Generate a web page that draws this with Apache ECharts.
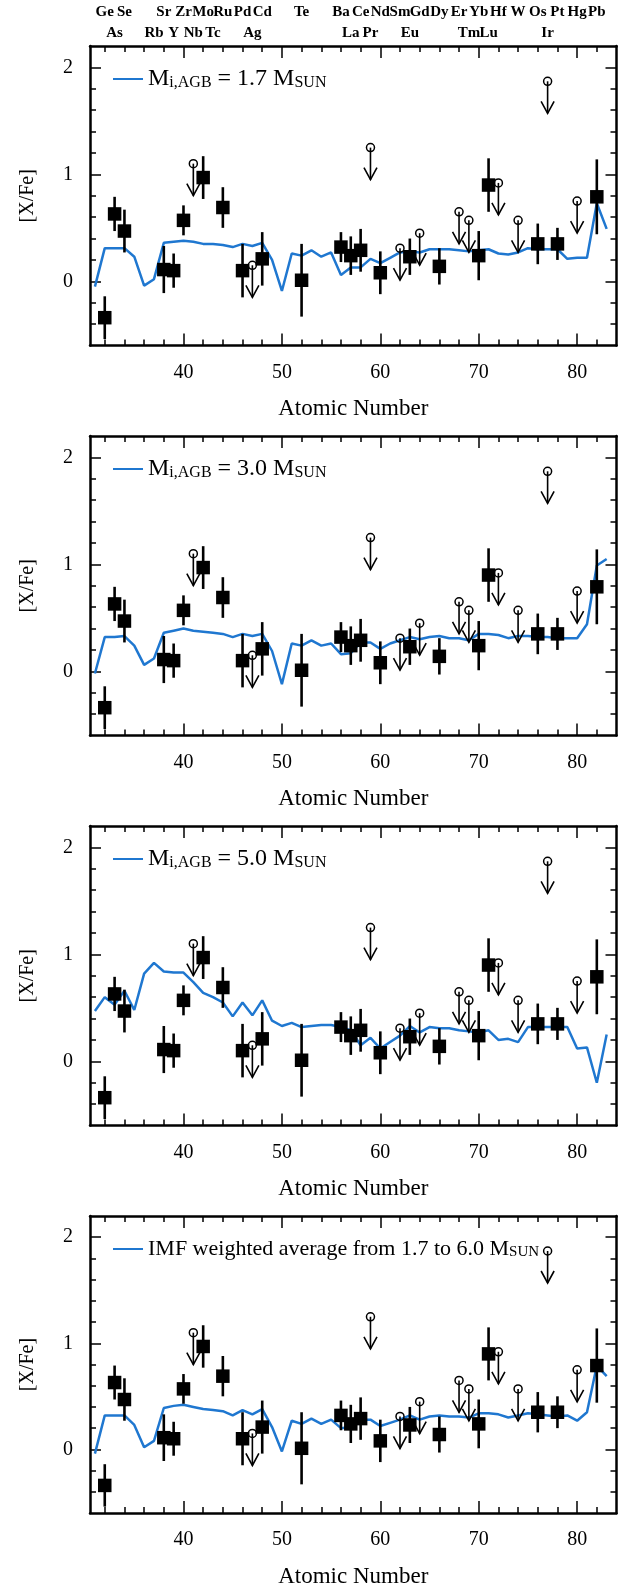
<!DOCTYPE html>
<html><head><meta charset="utf-8">
<script src="https://cdn.jsdelivr.net/npm/echarts@6/dist/echarts.min.js"></script>
<style>html,body{margin:0;padding:0;background:#fff}#c{width:623px;height:1589px}</style>
</head><body><div id="c"></div>
<script>
// ---------------- data ----------------
const detZ   = [32, 33, 34, 38, 39, 40, 42, 44, 46, 48, 52, 56, 57, 58, 60, 63, 66, 70, 71, 76, 78, 82];
const detVal = [-0.34, 0.63, 0.47, 0.11, 0.10, 0.57, 0.97, 0.69, 0.10, 0.21, 0.01, 0.32, 0.24, 0.29, 0.08, 0.23, 0.14, 0.24, 0.90, 0.35, 0.35, 0.79];
const detErr = [0.20, 0.16, 0.20, 0.22, 0.16, 0.14, 0.20, 0.19, 0.25, 0.25, 0.34, 0.14, 0.18, 0.20, 0.20, 0.17, 0.17, 0.23, 0.25, 0.19, 0.15, 0.35];

const ulZ   = [41, 47, 59, 62, 64, 68, 69, 72, 74, 77, 80];
const ulVal = [1.10, 0.15, 1.25, 0.31, 0.45, 0.65, 0.57, 0.92, 0.57, 1.87, 0.75];

const modelZ = [31,32,33,34,35,36,37,38,39,40,41,42,43,44,45,46,47,48,49,50,51,52,53,54,55,56,57,58,59,60,61,62,63,64,65,66,67,68,69,70,71,72,73,74,75,76,77,78,79,80,81,82,83];
const model17 = [-0.05,0.31,0.31,0.31,0.23,-0.04,0.02,0.36,0.37,0.38,
                 0.37,0.35,0.35,0.34,0.32,0.35,0.33,0.36,0.20,-0.09,
                 0.26,0.24,0.29,0.23,0.27,0.06,0.13,0.13,0.21,0.17,
                 0.22,0.27,0.28,0.27,0.30,0.30,0.30,0.29,0.28,0.29,
                 0.30,0.26,0.25,0.27,0.31,0.30,0.30,0.30,0.21,0.22,
                 0.22,0.73,0.49];
const model30 = [-0.02,0.32,0.32,0.33,0.24,0.06,0.12,0.36,0.38,0.40,
                 0.38,0.37,0.36,0.35,0.32,0.35,0.33,0.35,0.19,-0.12,
                 0.26,0.24,0.29,0.24,0.26,0.16,0.17,0.27,0.27,0.21,
                 0.26,0.29,0.32,0.30,0.32,0.33,0.31,0.31,0.29,0.35,
                 0.35,0.34,0.31,0.33,0.33,0.32,0.32,0.31,0.31,0.31,
                 0.44,0.99,1.05];
const model50 = [0.47,0.60,0.53,0.66,0.48,0.82,0.92,0.84,0.83,0.83,
                 0.74,0.64,0.60,0.55,0.42,0.55,0.43,0.57,0.38,0.33,
                 0.36,0.32,0.33,0.34,0.34,0.32,0.29,0.15,0.22,0.12,
                 0.18,0.24,0.33,0.27,0.32,0.31,0.31,0.29,0.28,0.27,
                 0.29,0.20,0.21,0.18,0.32,0.32,0.32,0.32,0.32,0.12,
                 0.13,-0.20,0.25];
const modelIMF = [-0.04,0.32,0.32,0.32,0.23,0.02,0.08,0.39,0.41,0.42,
                  0.40,0.38,0.37,0.36,0.32,0.37,0.33,0.38,0.21,-0.02,
                  0.27,0.24,0.29,0.24,0.28,0.20,0.21,0.28,0.28,0.22,
                  0.25,0.28,0.32,0.28,0.31,0.32,0.31,0.31,0.30,0.34,
                  0.34,0.33,0.30,0.32,0.34,0.33,0.32,0.31,0.32,0.27,
                  0.35,0.79,0.69];

const xTickLabels = [40, 50, 60, 70, 80];
const xMinorTicks = [32,34,36,38,42,44,46,48,52,54,56,58,62,64,66,68,72,74,76,78,82];
const yTickLabels = [0, 1, 2];
const yMinorTicks = [-0.4,-0.2,0.2,0.4,0.6,0.8,1.2,1.4,1.6,1.8];

const headerRow1 = [['Ge',32],['Se',34],['Sr',38],['Zr',40],['Mo',42],['Ru',44],['Pd',46],['Cd',48],['Te',52],
  ['Ba',56],['Ce',58],['Nd',60],['Sm',62],['Gd',64],['Dy',66],['Er',68],['Yb',70],['Hf',72],['W',74],['Os',76],['Pt',78],['Hg',80],['Pb',82]];
const headerRow2 = [['As',33],['Rb',37],['Y',39],['Nb',41],['Tc',43],['Ag',47],['La',57],['Pr',59],['Eu',63],['Tm',69],['Lu',71],['Ir',77]];

const panelNames = ['M17', 'M30', 'M50', 'IMF'];
const panelModels = [model17, model30, model50, modelIMF];
const legendTexts = {
  M17: '{m|M}{s|i,AGB}{m| = 1.7 M}{s|SUN}',
  M30: '{m|M}{s|i,AGB}{m| = 3.0 M}{s|SUN}',
  M50: '{m|M}{s|i,AGB}{m| = 5.0 M}{s|SUN}',
  IMF: '{m|IMF weighted average from 1.7 to 6.0 M}{s|SUN}'
};

// ---------------- layout / style ----------------
const FONT = 'Liberation Serif';
const BLUE = '#1f77d0';
const GRID_LEFT = 90, GRID_RIGHT = 6.5, GRID_TOP0 = 46, GRID_STEP = 390, GRID_H = 299.5;
const XMIN = 30.5, XMAX = 84, YMIN = -0.6, YMAX = 2.2;

const chart = echarts.init(document.getElementById('c'), null, {renderer: 'canvas'});

const grids = [], xAxes = [], yAxes = [], series = [], legends = [];
const tickStyle = {color: '#000', width: 1.5};
const frameLine = {show: true, onZero: false, lineStyle: {color: '#000', width: 2.5}};

for (let k = 0; k < 4; k++) {
  const top = GRID_TOP0 + GRID_STEP * k;
  grids.push({left: GRID_LEFT, right: GRID_RIGHT, top: top, height: GRID_H, containLabel: false});
  const xb = {type: 'value', gridIndex: k, min: XMIN, max: XMAX, splitLine: {show: false}, axisLabel: {show: false}};
  xAxes.push(Object.assign({}, xb, {position: 'bottom', axisLine: frameLine,
    name: 'Atomic Number', nameLocation: 'middle', nameGap: 52,
    nameTextStyle: {fontFamily: FONT, fontSize: 23, color: '#000'},
    axisLabel: {show: true, customValues: xTickLabels, margin: 17, fontFamily: FONT, fontSize: 20, color: '#000'},
    axisTick: {show: true, inside: true, length: 6, customValues: xMinorTicks, lineStyle: tickStyle}}));
  xAxes.push(Object.assign({}, xb, {position: 'bottom', axisLine: {show: false, onZero: false},
    axisTick: {show: true, inside: true, length: 12, customValues: xTickLabels, lineStyle: tickStyle}}));
  xAxes.push(Object.assign({}, xb, {position: 'top', axisLine: frameLine,
    axisTick: {show: true, inside: true, length: 6, customValues: xMinorTicks, lineStyle: tickStyle}}));
  xAxes.push(Object.assign({}, xb, {position: 'top', axisLine: {show: false, onZero: false},
    axisTick: {show: true, inside: true, length: 12, customValues: xTickLabels, lineStyle: tickStyle}}));

  const yb = {type: 'value', gridIndex: k, min: YMIN, max: YMAX, splitLine: {show: false}, axisLabel: {show: false}};
  yAxes.push(Object.assign({}, yb, {position: 'left', axisLine: frameLine,
    name: '[X/Fe]', nameLocation: 'middle', nameGap: 52, nameRotate: 90,
    nameTextStyle: {fontFamily: FONT, fontSize: 20, color: '#000'},
    axisLabel: {show: true, customValues: yTickLabels, margin: 17, fontFamily: FONT, fontSize: 20, color: '#000'},
    axisTick: {show: true, inside: true, length: 6, customValues: yMinorTicks, lineStyle: tickStyle}}));
  yAxes.push(Object.assign({}, yb, {position: 'left', axisLine: {show: false, onZero: false},
    axisTick: {show: true, inside: true, length: 11, customValues: yTickLabels, lineStyle: tickStyle}}));
  yAxes.push(Object.assign({}, yb, {position: 'right', axisLine: frameLine,
    axisTick: {show: true, inside: true, length: 6, customValues: yMinorTicks, lineStyle: tickStyle}}));
  yAxes.push(Object.assign({}, yb, {position: 'right', axisLine: {show: false, onZero: false},
    axisTick: {show: true, inside: true, length: 11, customValues: yTickLabels, lineStyle: tickStyle}}));

  const xi = 4 * k, yi = 4 * k;
  series.push({
    name: panelNames[k], type: 'line', xAxisIndex: xi, yAxisIndex: yi,
    data: modelZ.map((z, i) => [z, panelModels[k][i]]),
    symbol: 'none', lineStyle: {color: BLUE, width: 2.5}, itemStyle: {color: BLUE}, z: 2
  });
  series.push({
    type: 'custom', xAxisIndex: xi, yAxisIndex: yi, z: 3,
    data: detZ.map((z, i) => [z, detVal[i], detErr[i]]),
    renderItem: function (params, api) {
      const x = api.value(0), y = api.value(1), e = api.value(2);
      const p1 = api.coord([x, y + e]), p2 = api.coord([x, y - e]);
      return {type: 'line', shape: {x1: p1[0], y1: p1[1], x2: p2[0], y2: p2[1]},
        style: {stroke: '#000', lineWidth: 2.6}};
    }
  });
  series.push({
    type: 'scatter', xAxisIndex: xi, yAxisIndex: yi, z: 4,
    data: detZ.map((z, i) => [z, detVal[i]]),
    symbol: 'rect', symbolSize: 13.5, itemStyle: {color: '#000', opacity: 1}
  });
  series.push({
    type: 'custom', xAxisIndex: xi, yAxisIndex: yi, z: 5,
    data: ulZ.map((z, i) => [z, ulVal[i]]),
    renderItem: function (params, api) {
      const p = api.coord([api.value(0), api.value(1)]);
      const L = 32, r = 4, hw = 6.5, hh = 12;
      return {type: 'group', children: [
        {type: 'circle', shape: {cx: p[0], cy: p[1], r: r}, style: {stroke: '#000', fill: 'rgba(255,255,255,0)', lineWidth: 1.5}},
        {type: 'line', shape: {x1: p[0], y1: p[1], x2: p[0], y2: p[1] + L}, style: {stroke: '#000', lineWidth: 1.6}},
        {type: 'polyline', shape: {points: [[p[0] - hw, p[1] + L - hh], [p[0], p[1] + L], [p[0] + hw, p[1] + L - hh]]},
          style: {stroke: '#000', fill: 'none', lineWidth: 1.6}}
      ]};
    }
  });

  const big = k === 3 ? 22 : 24, small = k === 3 ? 15 : 16;
  legends.push({
    data: [panelNames[k]], left: 113, top: top + 19, padding: 0,
    itemWidth: 30, itemHeight: 14, icon: 'path://M0,6 L30,6 L30,8 L0,8 Z',
    itemStyle: {color: BLUE}, selectedMode: false,
    formatter: function (name) { return legendTexts[name]; },
    textStyle: {color: '#000', fontFamily: FONT,
      rich: {
        m: {fontFamily: FONT, fontSize: big, lineHeight: big, verticalAlign: 'top', color: '#000'},
        s: {fontFamily: FONT, fontSize: small, lineHeight: small, verticalAlign: 'bottom', padding: [10, 0, 0, 0], color: '#000'}
      }}
  });
}

chart.setOption({
  animation: false,
  backgroundColor: '#fff',
  grid: grids, xAxis: xAxes, yAxis: yAxes, series: series, legend: legends
});

const graphics = [];
headerRow1.forEach(function (d) {
  graphics.push({type: 'text', x: chart.convertToPixel({xAxisIndex: 0}, d[1]), y: 12.5,
    style: {text: d[0], fontFamily: FONT, fontWeight: 'bold', fontSize: 15, fill: '#000', align: 'center', verticalAlign: 'middle'}});
});
headerRow2.forEach(function (d) {
  graphics.push({type: 'text', x: chart.convertToPixel({xAxisIndex: 0}, d[1]), y: 33.5,
    style: {text: d[0], fontFamily: FONT, fontWeight: 'bold', fontSize: 15, fill: '#000', align: 'center', verticalAlign: 'middle'}});
});
chart.setOption({graphic: graphics});
</script></body></html>
